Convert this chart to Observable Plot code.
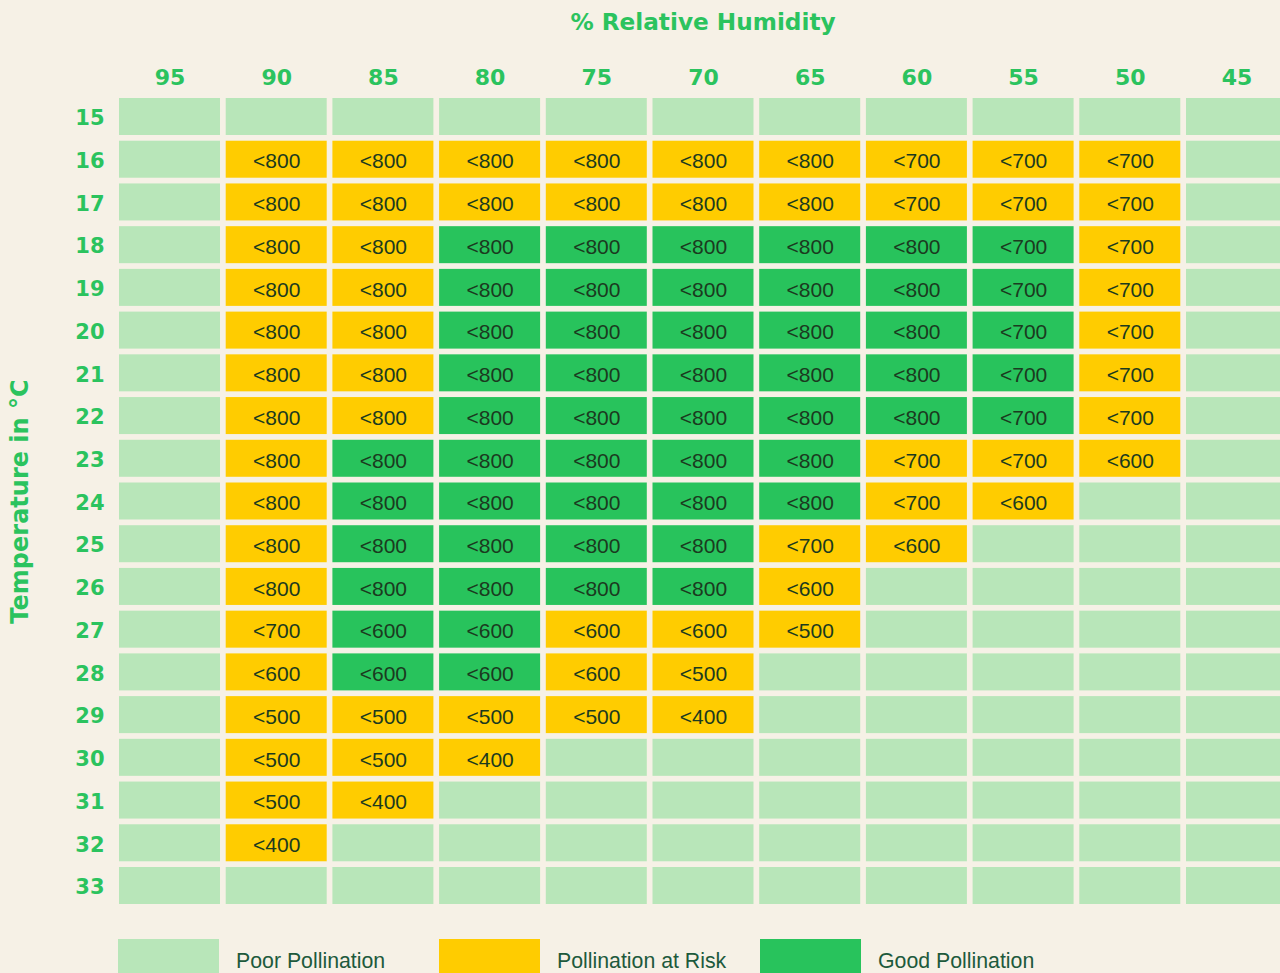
<!DOCTYPE html>
<html>
<head>
<meta charset="utf-8">
<script src="https://cdn.jsdelivr.net/npm/d3@7"></script>
<script src="https://cdn.jsdelivr.net/npm/@observablehq/plot@0.6"></script>
<style>
  html, body { margin: 0; padding: 0; background: #f6f1e6; width: 1280px; height: 973px; overflow: hidden; }
  #title { height: 44px; line-height: 44px; margin-left: 119px; width: 1168px; text-align: center;
    font-family: "DejaVu Sans", sans-serif; font-weight: bold; font-size: 23.2px; color: #2bc35e; }
  #chart svg { display: block; }
  #legend { display: flex; margin-left: 118px; margin-top: 15px; }
  .item { display: flex; align-items: center; width: 321px; }
  .sw { width: 101px; height: 44px; }
  .lab { margin-left: 17px; font-family: "Liberation Sans", Arial, sans-serif; font-size: 21.3px; color: #1d5a3c; }
</style>
</head>
<body>
<div id="title">% Relative Humidity</div>
<div id="chart"></div>
<div id="legend"></div>
<script>
const humidity = [95, 90, 85, 80, 75, 70, 65, 60, 55, 50, 45];
const temperature = [15, 16, 17, 18, 19, 20, 21, 22, 23, 24, 25, 26, 27, 28, 29, 30, 31, 32, 33];
// P = poor, R = at risk, G = good; one string per temperature row, one letter per humidity column
const status = [
  "PPPPPPPPPPP", // 15
  "PRRRRRRRRRP", // 16
  "PRRRRRRRRRP", // 17
  "PRRGGGGGGRP", // 18
  "PRRGGGGGGRP", // 19
  "PRRGGGGGGRP", // 20
  "PRRGGGGGGRP", // 21
  "PRRGGGGGGRP", // 22
  "PRGGGGGRRRP", // 23
  "PRGGGGGRRPP", // 24
  "PRGGGGRRPPP", // 25
  "PRGGGGRPPPP", // 26
  "PRGGRRRPPPP", // 27
  "PRGGRRPPPPP", // 28
  "PRRRRRPPPPP", // 29
  "PRRRPPPPPPP", // 30
  "PRRPPPPPPPP", // 31
  "PRPPPPPPPPP", // 32
  "PPPPPPPPPPP"  // 33
];
const limits = [
  [null, null, null, null, null, null, null, null, null, null, null],
  [null, 800, 800, 800, 800, 800, 800, 700, 700, 700, null],
  [null, 800, 800, 800, 800, 800, 800, 700, 700, 700, null],
  [null, 800, 800, 800, 800, 800, 800, 800, 700, 700, null],
  [null, 800, 800, 800, 800, 800, 800, 800, 700, 700, null],
  [null, 800, 800, 800, 800, 800, 800, 800, 700, 700, null],
  [null, 800, 800, 800, 800, 800, 800, 800, 700, 700, null],
  [null, 800, 800, 800, 800, 800, 800, 800, 700, 700, null],
  [null, 800, 800, 800, 800, 800, 800, 700, 700, 600, null],
  [null, 800, 800, 800, 800, 800, 800, 700, 600, null, null],
  [null, 800, 800, 800, 800, 800, 700, 600, null, null, null],
  [null, 800, 800, 800, 800, 800, 600, null, null, null, null],
  [null, 700, 600, 600, 600, 600, 500, null, null, null, null],
  [null, 600, 600, 600, 600, 500, null, null, null, null, null],
  [null, 500, 500, 500, 500, 400, null, null, null, null, null],
  [null, 500, 500, 400, null, null, null, null, null, null, null],
  [null, 500, 400, null, null, null, null, null, null, null, null],
  [null, 400, null, null, null, null, null, null, null, null, null],
  [null, null, null, null, null, null, null, null, null, null, null]
];
const categories = ["P", "R", "G"];
const categoryNames = ["Poor Pollination", "Pollination at Risk", "Good Pollination"];
const categoryColors = ["#b8e6b9", "#ffcc00", "#28c35c"];

const cells = [];
temperature.forEach((t, i) => {
  humidity.forEach((h, j) => {
    cells.push({t, h, s: status[i][j], v: limits[i][j]});
  });
});

const green = "#2bc35e";
const plot = Plot.plot({
  width: 1280,
  height: 880,
  marginTop: 54,
  marginBottom: 20,
  marginLeft: 119,
  marginRight: 0,
  style: {background: "transparent", fontFamily: "DejaVu Sans, sans-serif", overflow: "hidden"},
  x: {type: "band", domain: humidity, range: [119, 1287], paddingInner: 0.0534, paddingOuter: 0, align: 0, round: false, axis: null},
  y: {type: "band", domain: temperature, range: [54, 860], paddingInner: 0.134, paddingOuter: 0, align: 0, round: false, axis: null},
  color: {domain: categories, range: categoryColors},
  marks: [
    Plot.cell(cells, {x: "h", y: "t", fill: "s", inset: 0}),
    Plot.text(cells.filter(d => d.v != null), {
      x: "h", y: "t", text: d => "<" + d.v, fill: "#1b3a1f", dy: 2,
      fontSize: 21, fontFamily: "Liberation Sans, Arial, sans-serif"
    }),
    Plot.axisX({anchor: "top", tickSize: 0, tickPadding: 14, fontSize: 22, fontWeight: "bold", fill: green, label: null}),
    Plot.axisY({anchor: "left", tickSize: 0, tickPadding: 15, dy: 1.5, fontSize: 21, fontWeight: "bold", fill: green, label: null}),
    Plot.text(["Temperature in °C"], {
      frameAnchor: "left", textAnchor: "middle", rotate: -90, dx: -99, fontSize: 24, fontWeight: "bold", fill: green
    })
  ]
});
document.getElementById("chart").appendChild(plot);

const legend = document.getElementById("legend");
categories.forEach((c, i) => {
  const item = document.createElement("div");
  item.className = "item";
  const sw = document.createElement("div");
  sw.className = "sw";
  sw.style.background = categoryColors[i];
  const lab = document.createElement("div");
  lab.className = "lab";
  lab.textContent = categoryNames[i];
  item.appendChild(sw);
  item.appendChild(lab);
  legend.appendChild(item);
});
</script>
</body>
</html>
